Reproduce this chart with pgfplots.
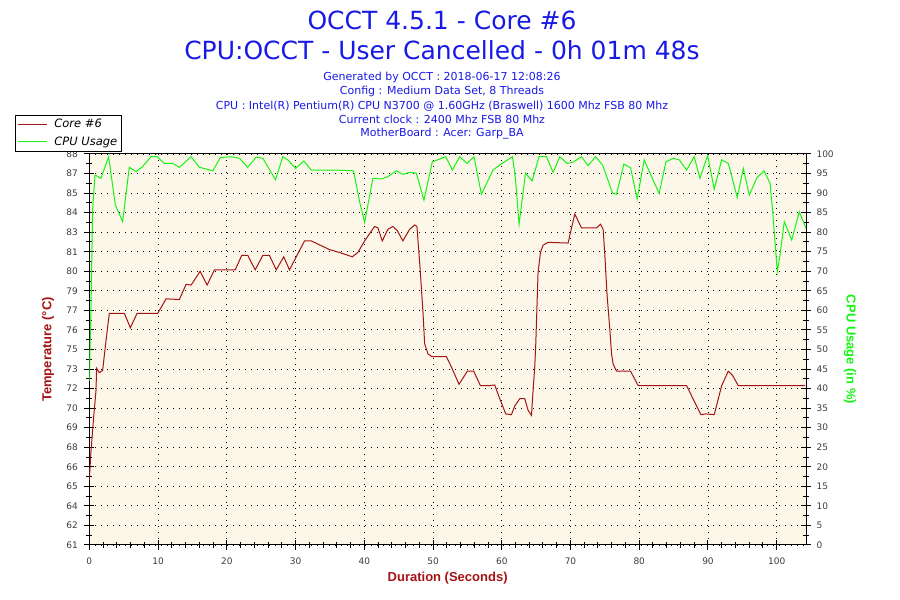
\documentclass[border=0pt]{standalone}
\usepackage{pgfplots}
\pgfplotsset{compat=1.18}
\usepackage{fontspec}
\setmainfont{DejaVu Sans}
\newfontfamily\labfont{Liberation Sans}
\definecolor{tred}{RGB}{165,20,20}
\definecolor{cpugreen}{RGB}{20,245,20}
\definecolor{titleblue}{RGB}{25,25,230}
\definecolor{cream}{RGB}{253,247,233}
\definecolor{ticktext}{RGB}{60,60,60}
\begin{document}
\begin{tikzpicture}[x=1pt,y=1pt]
\path[use as bounding box] (0,0) rectangle (900,600);
\node[anchor=base, text=titleblue, font=\fontsize{25}{30}\selectfont, inner sep=0pt] at (442,570) {OCCT 4.5.1 - Core \#6};
\node[anchor=base, text=titleblue, font=\fontsize{25}{30}\selectfont, inner sep=0pt] at (442,540) {CPU:OCCT - User Cancelled - 0h 01m 48s};
\node[anchor=base, text=titleblue, font=\fontsize{11}{13}\selectfont, inner sep=0pt] at (442,519) {Generated by OCCT : 2018-06-17 12:08:26};
\node[anchor=base, text=titleblue, font=\fontsize{11}{13}\selectfont, inner sep=0pt] at (442,505) {Config : Medium Data Set, 8 Threads};
\node[anchor=base, text=titleblue, font=\fontsize{11}{13}\selectfont, inner sep=0pt] at (442,490.7) {CPU : Intel(R) Pentium(R) CPU N3700 @ 1.60GHz (Braswell) 1600 Mhz FSB 80 Mhz};
\node[anchor=base, text=titleblue, font=\fontsize{11}{13}\selectfont, inner sep=0pt] at (442,476.7) {Current clock : 2400 Mhz FSB 80 Mhz};
\node[anchor=base, text=titleblue, font=\fontsize{11}{13}\selectfont, inner sep=0pt] at (442,463.3) {MotherBoard : Acer: Garp\_BA};
\begin{axis}[
  at={(89.3pt,55pt)}, anchor=south west,
  scale only axis, width=716.7pt, height=391pt,
  xmin=0, xmax=104.26, ymin=61, ymax=88,
  axis background/.style={fill=cream},
  axis line style={line width=1pt, black},
  xtick={0,10,...,100}, minor x tick num=4,
  ytick={61,62.35,63.7,65.05,66.4,67.75,69.1,70.45,71.8,73.15,74.5,75.85,77.2,78.55,79.9,81.25,82.6,83.95,85.3,86.65,88},
  yticklabels={61,62,64,65,66,68,69,70,72,73,75,76,77,79,80,81,83,84,85,87,88},
  minor y tick num=1,
  xtick pos=bottom, ytick pos=left,
  tick align=center,
  major tick length=10pt, minor tick length=6pt,
  tick style={line width=1pt, black},
  grid=major,
  major grid style={black, line width=0.9pt, dash pattern=on 0.9pt off 5.1pt},
  /pgf/number format/assume math mode=true,
  ticklabel style={font=\fontsize{9}{10}\selectfont, text=ticktext},
  xticklabel style={yshift=-4pt},
  yticklabel style={xshift=-3pt},
  xlabel={Duration (Seconds)},
  ylabel={Temperature (°C)},
  every axis x label/.style={at={(axis description cs:0.5,0)}, anchor=base, yshift=-36.7pt, font=\labfont\bfseries\fontsize{13}{15}\selectfont, text=tred},
  every axis y label/.style={at={(axis description cs:-0.0576,0.5)}, anchor=center, rotate=90, font=\labfont\bfseries\fontsize{13}{15}\selectfont, text=tred},
  legend style={at={(axis description cs:-0.1037,1.0997)}, anchor=north west, draw=black, line width=0.8pt, fill=white, font=\itshape\fontsize{11.5}{13}\selectfont, inner xsep=2pt, inner ysep=2pt, row sep=3.5pt},
  legend cell align=left,
  legend image code/.code={\draw[#1] (0pt,0pt) -- (29pt,0pt); \path (34pt,0pt);},
]
\addplot[color=tred, line width=1pt] coordinates {
(0,65.5)(0.25,67.5)(0.63,69.8)(0.98,71.7)(1.06,73.2)(1.46,72.9)(1.94,73.05)(2.43,75.1)(2.91,77.0)(3.64,77.0)(5.1,77.0)(5.97,76.0)(6.95,77.0)(9.95,77.0)(11.17,78.0)(13.1,77.95)(14.08,79.0)(14.81,78.95)(16.12,79.9)(17.14,78.95)(18.2,80.0)(21.22,80.0)(22.18,81.0)(23.05,81.0)(24.13,80.0)(25.24,81.0)(26.21,81.0)(27.19,80.0)(28.29,80.9)(29.12,80.0)(31.31,82.0)(32.28,82.0)(34.95,81.4)(36.4,81.2)(38.26,80.9)(39.07,81.2)(40.05,82.0)(41.5,83.0)(41.98,82.9)(42.62,82.0)(43.44,82.8)(44.17,83.0)(44.81,82.7)(45.62,82.0)(46.6,82.8)(47.33,83.1)(47.66,83.0)(48.06,80.5)(48.54,77.1)(48.78,74.9)(49.27,74.2)(49.85,74.0)(51.94,74.0)(52.67,73.3)(53.78,72.1)(55.0,73.0)(55.92,73.0)(56.9,72.0)(58.0,72.0)(58.98,72.05)(59.71,71.1)(60.58,70.05)(61.41,70.0)(61.89,70.6)(62.62,71.1)(63.35,71.1)(63.83,70.3)(64.32,69.95)(64.56,71.7)(64.8,73.3)(64.95,74.9)(65.28,79.8)(65.63,81.2)(66.01,81.7)(66.74,81.9)(69.65,81.85)(70.0,82.6)(70.63,83.85)(71.6,82.9)(73.79,82.9)(74.37,83.15)(74.75,82.8)(75.0,81.0)(75.33,78.2)(75.72,75.9)(75.97,74.2)(76.2,73.5)(76.7,73.0)(78.74,73.0)(79.85,72.0)(86.89,72.0)(88.97,70.0)(89.7,70.05)(90.91,70.0)(91.99,72.0)(92.95,73.0)(93.59,72.7)(94.41,72.0)(104.12,72.0)
};
\addlegendentry{Core \#6}
\addlegendimage{color=cpugreen, line width=1pt}
\addlegendentry{CPU Usage}
\end{axis}
\begin{axis}[
  at={(89.3pt,55pt)}, anchor=south west,
  scale only axis, width=716.7pt, height=391pt,
  xmin=0, xmax=104.26, ymin=0, ymax=100,
  axis x line=none, axis y line*=right,
  axis line style={line width=1pt, black},
  ytick={0,5,...,100}, minor y tick num=1,
  tick align=center,
  major tick length=10pt, minor tick length=6pt,
  tick style={line width=1pt, black},
  /pgf/number format/assume math mode=true,
  ticklabel style={font=\fontsize{9}{10}\selectfont, text=ticktext},
  yticklabel style={xshift=2pt},
  ylabel={CPU Usage (in \%)},
  every axis y label/.style={at={(axis description cs:1.0614,0.5)}, anchor=center, rotate=-90, font=\labfont\bfseries\fontsize{13}{15}\selectfont, text=cpugreen},
]
\addplot[color=cpugreen, line width=1pt] coordinates {
(0,42)(0.25,61)(0.48,85.7)(0.83,94.6)(1.7,93.8)(2.81,99.3)(3.79,87)(4.85,82.7)(5.82,96.6)(6.8,95.5)(7.76,96.8)(8.98,99.3)(9.86,99.3)(10.92,97.6)(12.13,97.6)(13.1,96.6)(14.81,99.3)(16.02,96.6)(17.96,95.7)(19.08,99.1)(20.63,99.3)(21.84,98.9)(23.05,96.6)(24.28,99.2)(25.24,98.9)(27.09,93.4)(28.15,99.3)(28.88,98.5)(30.0,96.3)(31.21,98.2)(32.28,95.9)(35.68,95.9)(38.44,95.7)(39.32,87.8)(40.05,82.5)(41.26,93.8)(42.48,93.6)(43.44,94.2)(44.66,95.7)(45.62,94.8)(46.6,95.3)(47.57,95.1)(48.68,88.2)(49.9,98.0)(51.84,99.3)(52.82,95.9)(53.88,99.3)(54.94,97.6)(55.96,99.3)(57.04,89.7)(58.73,95.9)(59.71,97.2)(61.56,99.3)(61.99,93.8)(62.52,82.0)(63.45,95.1)(64.41,93.1)(65.43,99.3)(66.51,99.3)(67.47,95.3)(68.44,99.3)(69.51,97.6)(70.38,97.9)(71.6,99.3)(72.56,97.0)(73.64,99.3)(74.66,97.2)(76.12,90.0)(76.7,89.7)(77.76,97.4)(78.74,96.5)(79.7,88.5)(80.72,98.5)(81.8,94.2)(82.9,89.9)(83.88,98.0)(84.94,98.9)(85.82,98.5)(86.89,95.9)(88.0,99.3)(88.83,93.8)(89.95,99.6)(90.91,91.0)(91.99,98.5)(92.95,97.6)(94.26,88.9)(95.14,96.3)(96.01,89.5)(97.09,93.8)(98.15,95.7)(99.03,92.5)(99.42,85.2)(99.75,77.6)(100.09,69.9)(100.48,74.2)(101.1,82.7)(102.18,78.0)(103.29,85.2)(104.26,81.0)
};
\end{axis}
\end{tikzpicture}
\end{document}
